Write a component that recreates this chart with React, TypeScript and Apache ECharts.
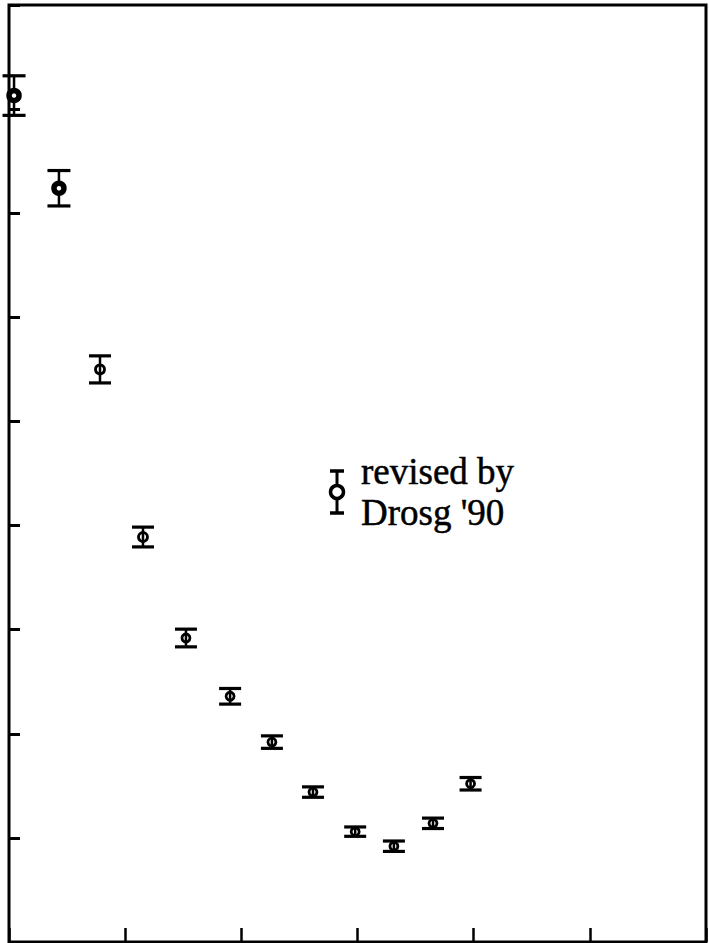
import React, { useEffect, useRef } from "react";
import * as echarts from "echarts";

// angle-like x values (axis 0..180, ticks every 30; no labels shown)
const xValues = [1.3, 12.9, 23.5, 34.6, 45.7, 57.1, 67.9, 78.5, 89.4, 99.4, 109.5, 119.2];
// y values (axis 0..9, ticks every 1; no labels shown)
const yValues = [8.13, 7.24, 5.5, 3.89, 2.92, 2.36, 1.92, 1.44, 1.06, 0.92, 1.14, 1.52];
// symmetric error half-widths
const yErrors = [0.19, 0.17, 0.13, 0.095, 0.085, 0.075, 0.06, 0.05, 0.045, 0.05, 0.05, 0.06];

const legendLines = ["revised by", "Drosg '90"];

export default function App() {
  const ref = useRef<HTMLDivElement>(null);
  useEffect(() => {
    if (!ref.current) return;
    const chart = echarts.init(ref.current, undefined, { renderer: "svg" });
    const data = xValues.map((x, i) => [x, yValues[i], yErrors[i]]);
    const font = "37px 'Liberation Serif', serif";
    chart.setOption({
      animation: false,
      backgroundColor: "#fff",
      grid: {
        left: 9,
        right: 3,
        top: 5,
        bottom: 1,
        show: true,
        borderColor: "#000",
        borderWidth: 3,
        backgroundColor: "transparent",
      },
      xAxis: {
        type: "value",
        min: 0,
        max: 180,
        interval: 30,
        axisLine: { show: false },
        axisTick: { show: true, inside: true, length: 14, lineStyle: { color: "#000", width: 2.5 } },
        axisLabel: { show: false },
        splitLine: { show: false },
      },
      yAxis: {
        type: "value",
        min: 0,
        max: 9,
        interval: 1,
        axisLine: { show: false },
        axisTick: { show: true, inside: true, length: 11, lineStyle: { color: "#000", width: 3 } },
        axisLabel: { show: false },
        splitLine: { show: false },
      },
      series: [
        {
          type: "custom",
          clip: false,
          data,
          renderItem: (params: any, api: any) => {
            const x = api.value(0);
            const y = api.value(1);
            const e = api.value(2);
            const c = api.coord([x, y]);
            const top = api.coord([x, y + e]);
            const bot = api.coord([x, y - e]);
            const idx = params.dataIndex;
            const big = idx < 2;
            const hw = big ? 11.5 : 11;
            const r = big ? 5 : idx < 4 ? 4.5 : 4;
            return {
              type: "group",
              children: [
                { type: "line", shape: { x1: c[0], y1: top[1], x2: c[0], y2: bot[1] }, style: { stroke: "#000", lineWidth: 2.5 } },
                { type: "line", shape: { x1: c[0] - hw, y1: top[1], x2: c[0] + hw, y2: top[1] }, style: { stroke: "#000", lineWidth: 3.2 } },
                { type: "line", shape: { x1: c[0] - hw, y1: bot[1], x2: c[0] + hw, y2: bot[1] }, style: { stroke: "#000", lineWidth: 3.2 } },
                {
                  type: "circle",
                  shape: { cx: c[0], cy: c[1], r },
                  style: { fill: big ? "#fff" : "none", stroke: "#000", lineWidth: big ? 5.5 : 2.8 },
                },
              ],
            };
          },
        },
      ],
      graphic: [
        { type: "line", shape: { x1: 337, y1: 471, x2: 337, y2: 513 }, style: { stroke: "#000", lineWidth: 3 } },
        { type: "line", shape: { x1: 330, y1: 471, x2: 344, y2: 471 }, style: { stroke: "#000", lineWidth: 3.5 } },
        { type: "line", shape: { x1: 330, y1: 513, x2: 344, y2: 513 }, style: { stroke: "#000", lineWidth: 3.5 } },
        { type: "circle", shape: { cx: 337, cy: 492, r: 6.5 }, style: { fill: "#fff", stroke: "#000", lineWidth: 3.5 } },
        {
          type: "text",
          x: 361,
          y: 490,
          style: { text: legendLines[0], font, fill: "#000", stroke: "#000", lineWidth: 0.5, verticalAlign: "bottom" },
        },
        {
          type: "text",
          x: 361,
          y: 531,
          style: { text: legendLines[1], font, fill: "#000", stroke: "#000", lineWidth: 0.5, verticalAlign: "bottom" },
        },
      ],
    });
    return () => chart.dispose();
  }, []);
  return <div ref={ref} style={{ position: "fixed", left: 0, top: 0, width: 709, height: 943 }} />;
}
